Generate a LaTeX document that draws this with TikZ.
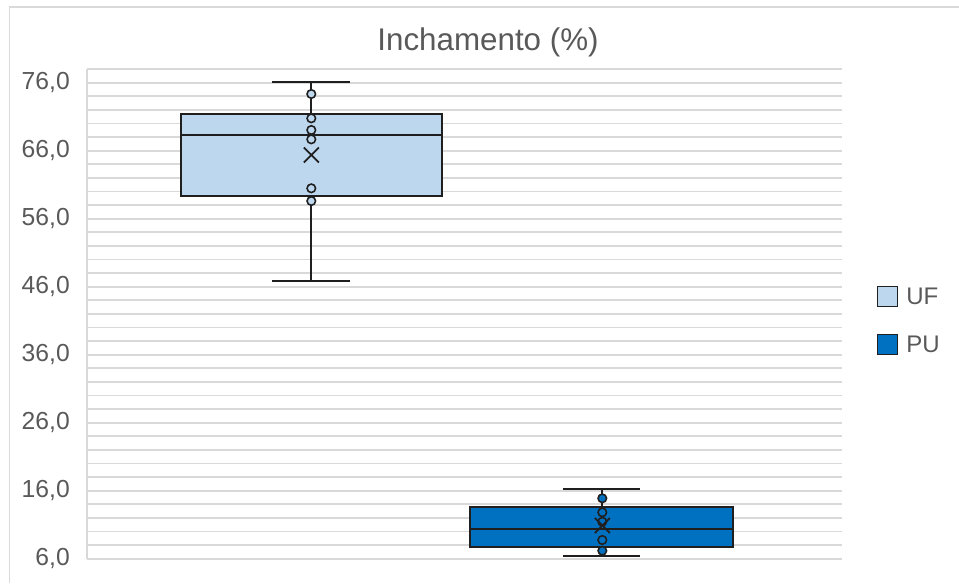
\documentclass[tikz,border=0pt]{standalone}
\usepackage{fontspec}
\setmainfont{Liberation Sans}
\definecolor{ufc}{HTML}{BDD7EE}
\definecolor{puc}{HTML}{0070C0}
\definecolor{gridc}{HTML}{D9D9D9}
\definecolor{txtc}{HTML}{595959}
\definecolor{edgec}{HTML}{1F1F1F}
\begin{document}
\begin{tikzpicture}[x=0.75pt,y=-0.75pt,
  gridline/.style={gridc,line width=1.4pt},
  frameline/.style={gridc,line width=1pt},
  titletext/.style={text=txtc,font=\fontsize{23.5}{27}\selectfont,inner sep=0pt},
  ylab/.style={text=txtc,font=\fontsize{18.5}{21}\selectfont,inner sep=0pt,anchor=east},
  legtext/.style={text=txtc,font=\fontsize{18}{21}\selectfont,inner sep=0pt,anchor=west},
  legbox/.style={draw=edgec,line width=1.3pt,minimum size=15pt,inner sep=0pt},
  boxline/.style={draw=edgec,line width=1.5pt},
  whisk/.style={edgec,line width=1.4pt},
  pt/.style={draw=edgec,line width=1.2pt},
  meanx/.style={edgec,line width=1.3pt}]
\useasboundingbox (0,0) rectangle (959,583);
\fill[white] (0,0) rectangle (959,583);
% chart frame
\draw[frameline] (9.5,583) -- (9.5,7) -- (959,7);
% title
\node[titletext] (title) at (488,42) {Inchamento (\%)};
% gridlines every 2 units
\foreach \v in {6,8,...,78}
  \draw[gridline] (87,{82.7+(76-\v)*6.8}) -- (842,{82.7+(76-\v)*6.8});
\draw[gridline] (87,69.1) -- (87,558.7);
% axis labels
\foreach \v in {6,16,26,36,46,56,66,76}
  \node[ylab] (lab\v) at (70,{82.7+(76-\v)*6.8}) {\v,0};
% ---- UF ----
\coordinate (uftop) at (311.3,82.3);
\coordinate (ufbot) at (311.3,281);
\draw[whisk] (uftop) -- (ufbot);
\draw[whisk] (272.3,82.3) -- (350,82.3);
\draw[whisk] (272.3,281) -- (350,281);
\draw[boxline,fill=ufc] (180.7,114) rectangle (442.3,196);
\draw[boxline] (180.7,134.7) -- (442.3,134.7);
\foreach \y in {94,118.3,130,139.3,188.3,201}
  \filldraw[pt,fill=ufc] (311.3,\y) circle (3.2pt);
\draw[meanx] (303.8,147.5) -- (318.8,162.5) (303.8,162.5) -- (318.8,147.5);
% ---- PU ----
\coordinate (putop) at (602.3,489.3);
\coordinate (pubot) at (602.3,556);
\draw[whisk] (putop) -- (pubot);
\draw[whisk] (563.3,489.3) -- (640,489.3);
\draw[whisk] (563.3,556) -- (640,556);
\draw[boxline,fill=puc] (470,507.3) rectangle (733.3,547.3);
\draw[boxline] (470,529) -- (733.3,529);
\foreach \y in {498.3,512.3,521.7,540,550.7}
  \filldraw[pt,fill=puc] (602.3,\y) circle (3.2pt);
\draw[meanx] (594.8,518) -- (609.8,533) (594.8,533) -- (609.8,518);
% ---- legend ----
\node[legbox,fill=ufc] (ufkey) at (887.5,296.5) {};
\node[legtext] (uflab) at (906,296.5) {UF};
\node[legbox,fill=puc] (pukey) at (887.5,344.5) {};
\node[legtext] (pulab) at (906,344.5) {PU};
\end{tikzpicture}
\end{document}
